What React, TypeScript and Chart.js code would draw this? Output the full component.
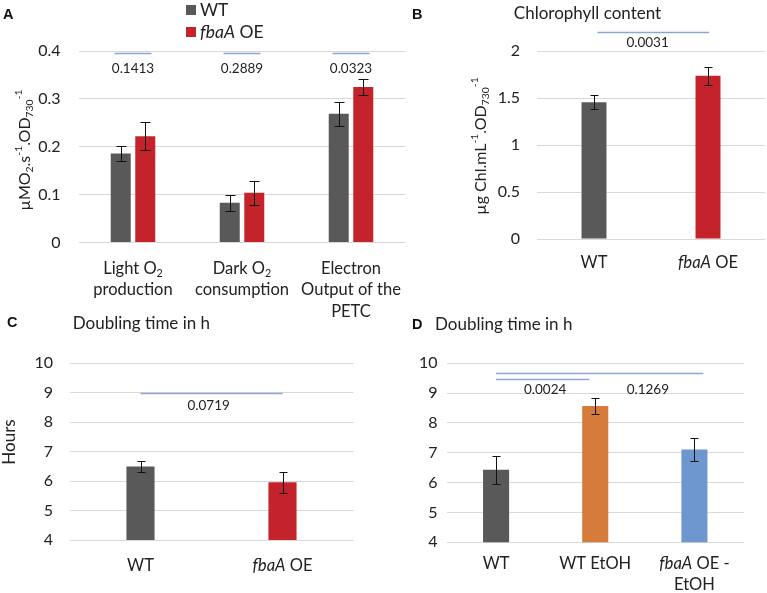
import React, { useEffect, useRef } from "react";
import { Chart, registerables } from "chart.js";
Chart.register(...registerables);

const W = 767;
const H = 593;
const FONT = "Lato, 'Open Sans', sans-serif";
const BOLD_FONT = "'Liberation Sans', Arial, sans-serif";
const TEXT = "#222222";
const GRID = "#d9d9d9";
const PLINE = "#8aa7d6";
const GREY = "#595959";
const RED = "#c4232b";
const ORANGE = "#d57b3b";
const BLUE = "#6f97cf";
const LABEL_SIZE = 16.5;
const TICK_SIZE = 16;
const P_SIZE = 13.5;

// ---------- Panel A ----------
const aCategories = [["Light O_{2}", "production"], ["Dark O_{2}", "consumption"], ["Electron", "Output of the", "PETC"]];
const aSeriesNames = ["WT", "*fbaA* OE"];
const aWT = [0.186, 0.083, 0.269];
const aWTErr = [0.016, 0.017, 0.025];
const aOE = [0.222, 0.104, 0.325];
const aOEErr = [0.029, 0.025, 0.017];
const aPValues = ["0.1413", "0.2889", "0.0323"];
const aYTicks = [0, 0.1, 0.2, 0.3, 0.4];

// ---------- Panel B ----------
const bCategories = [["WT"], ["*fbaA* OE"]];
const bValues = [1.454, 1.737];
const bErr = [0.075, 0.097];
const bPValue = "0.0031";
const bYTicks = [0, 0.5, 1, 1.5, 2];

// ---------- Panel C ----------
const cCategories = [["WT"], ["*fbaA* OE"]];
const cValues = [6.5, 5.96];
const cErr = [0.18, 0.35];
const cPValue = "0.0719";
const cYTicks = [4, 5, 6, 7, 8, 9, 10];

// ---------- Panel D ----------
const dCategories = [["WT"], ["WT EtOH"], ["*fbaA* OE -", "EtOH"]];
const dValues = [6.43, 8.57, 7.11];
const dErr = [0.47, 0.27, 0.4];
const dPValues = ["0.0024", "0.1269"];
const dYTicks = [4, 5, 6, 7, 8, 9, 10];

type Seg = { t: string; kind: "n" | "sub" | "sup"; italic: boolean };
function parseRich(s: string): Seg[] {
  const segs: Seg[] = [];
  let italic = false;
  let i = 0;
  let buf = "";
  const flush = () => {
    if (buf) { segs.push({ t: buf, kind: "n", italic }); buf = ""; }
  };
  while (i < s.length) {
    const c = s[i];
    if (c === "*") { flush(); italic = !italic; i++; continue; }
    if ((c === "_" || c === "^") && s[i + 1] === "{") {
      flush();
      const end = s.indexOf("}", i);
      segs.push({ t: s.slice(i + 2, end), kind: c === "_" ? "sub" : "sup", italic });
      i = end + 1;
      continue;
    }
    buf += c;
    i++;
  }
  flush();
  return segs;
}
function segFont(sg: Seg, size: number, family: string) {
  const sz = sg.kind === "n" ? size : size * 0.65;
  return `${sg.italic ? "italic " : ""}${sz}px ${family}`;
}
function drawRich(ctx: CanvasRenderingContext2D, s: string, x: number, y: number, size: number,
  align: "left" | "center" | "right" = "center", family = FONT, color = TEXT) {
  const segs = parseRich(s);
  ctx.save();
  ctx.textBaseline = "middle";
  ctx.textAlign = "left";
  ctx.fillStyle = color;
  let total = 0;
  const widths = segs.map((sg) => {
    ctx.font = segFont(sg, size, family);
    const w = ctx.measureText(sg.t).width;
    total += w;
    return w;
  });
  let cx = align === "left" ? x : align === "center" ? x - total / 2 : x - total;
  segs.forEach((sg, k) => {
    ctx.font = segFont(sg, size, family);
    const dy = sg.kind === "sub" ? size * 0.3 : sg.kind === "sup" ? -size * 0.38 : 0;
    ctx.fillText(sg.t, cx, y + dy);
    cx += widths[k];
  });
  ctx.restore();
}
function drawRotated(ctx: CanvasRenderingContext2D, s: string, x: number, y: number, size: number) {
  ctx.save();
  ctx.translate(x, y);
  ctx.rotate(-Math.PI / 2);
  drawRich(ctx, s, 0, 0, size, "center");
  ctx.restore();
}
function letter(ctx: CanvasRenderingContext2D, s: string, x: number, y: number) {
  ctx.save();
  ctx.font = `bold 14.5px ${BOLD_FONT}`;
  ctx.fillStyle = "#111";
  ctx.textAlign = "left";
  ctx.textBaseline = "middle";
  ctx.fillText(s, x, y);
  ctx.restore();
}

type Helpers = {
  px: (i: number) => number;
  py: (v: number) => number;
  hline: (i0: number, i1: number, v: number) => void;
};

type Spec = {
  area: { left: number; right: number; top: number; bottom: number };
  tickPad: number;
  yTicks: number[];
  categories: string[][];
  labelY: number[];
  datasets: { values: number[]; errors: number[]; colors: string[] | string; name: string }[];
  categoryPercentage: number;
  barPercentage: number;
  cap: number;
  annotate: (ctx: CanvasRenderingContext2D, h: Helpers) => void;
};

function Panel({ spec }: { spec: Spec }) {
  const ref = useRef<HTMLCanvasElement | null>(null);
  useEffect(() => {
    const canvas = ref.current!;
    const { area } = spec;
    const step = spec.yTicks[1] - spec.yTicks[0];
    const plugin = {
      id: "custom",
      afterDraw(chart: any) {
        const ctx: CanvasRenderingContext2D = chart.ctx;
        const xs = chart.scales.x;
        const ys = chart.scales.y;
        const px = (i: number) => xs.getPixelForValue(i);
        const py = (v: number) => ys.getPixelForValue(v);
        // error bars
        spec.datasets.forEach((ds, di) => {
          const meta = chart.getDatasetMeta(di);
          meta.data.forEach((el: any, i: number) => {
            const x = Math.round(el.x) + 0.5;
            const yt = Math.round(py(ds.values[i] + ds.errors[i])) + 0.5;
            const yb = Math.round(py(ds.values[i] - ds.errors[i])) + 0.5;
            const c = spec.cap;
            ctx.save();
            ctx.strokeStyle = "#111";
            ctx.lineWidth = 1;
            ctx.beginPath();
            ctx.moveTo(x, yt); ctx.lineTo(x, yb);
            ctx.moveTo(x - c, yt); ctx.lineTo(x + c, yt);
            ctx.moveTo(x - c, yb); ctx.lineTo(x + c, yb);
            ctx.stroke();
            ctx.restore();
          });
        });
        // category labels
        spec.categories.forEach((lines, i) => {
          lines.forEach((ln, k) => drawRich(ctx, ln, px(i), spec.labelY[k], LABEL_SIZE, "center"));
        });
        const hline = (i0: number, i1: number, v: number) => {
          ctx.save();
          ctx.strokeStyle = PLINE;
          ctx.lineWidth = 1.3;
          ctx.beginPath();
          ctx.moveTo(px(i0), Math.round(py(v)) + 0.5);
          ctx.lineTo(px(i1), Math.round(py(v)) + 0.5);
          ctx.stroke();
          ctx.restore();
        };
        spec.annotate(ctx, { px, py, hline });
      },
    };
    const chart = new Chart(canvas, {
      type: "bar",
      data: {
        labels: spec.categories.map((l) => l.join(" ").replace(/[*_^{}]/g, "")),
        datasets: spec.datasets.map((ds) => ({
          label: ds.name,
          data: ds.values,
          backgroundColor: ds.colors,
          borderWidth: 0,
          categoryPercentage: spec.categoryPercentage,
          barPercentage: spec.barPercentage,
        })),
      },
      options: {
        responsive: false,
        animation: false,
        devicePixelRatio: 1,
        events: [],
        layout: {
          padding: { left: 0, top: area.top, right: W - area.right, bottom: H - area.bottom },
        },
        plugins: { legend: { display: false }, tooltip: { enabled: false }, title: { display: false } },
        scales: {
          x: { display: false },
          y: {
            min: spec.yTicks[0],
            max: spec.yTicks[spec.yTicks.length - 1],
            afterFit: (s: any) => { s.width = area.left; },
            border: { display: false },
            grid: { color: GRID, lineWidth: 1, drawTicks: false },
            ticks: {
              stepSize: step,
              padding: spec.tickPad,
              color: TEXT,
              font: { family: FONT, size: TICK_SIZE },
              callback: (v: any) => String(Math.round(Number(v) * 100) / 100),
            },
          },
        },
      },
      plugins: [plugin],
    } as any);
    return () => chart.destroy();
  }, [spec]);
  return (
    <canvas ref={ref} width={W} height={H}
      style={{ position: "absolute", left: 0, top: 0, width: W, height: H }} />
  );
}

const specA: Spec = {
  area: { left: 78.5, right: 405.5, top: 51, bottom: 242.5 },
  tickPad: 18,
  yTicks: aYTicks,
  categories: aCategories,
  labelY: [268.5, 290, 311.5],
  datasets: [
    { values: aWT, errors: aWTErr, colors: GREY, name: aSeriesNames[0] },
    { values: aOE, errors: aOEErr, colors: RED, name: aSeriesNames[1] },
  ],
  categoryPercentage: 0.45,
  barPercentage: 0.816,
  cap: 5,
  annotate: (ctx, h) => {
    letter(ctx, "A", 3, 15);
    // legend
    ctx.fillStyle = GREY; ctx.fillRect(186, 5, 10, 10);
    ctx.fillStyle = RED; ctx.fillRect(186, 27, 10, 10);
    drawRich(ctx, aSeriesNames[0], 200, 10.5, 17.5, "left");
    drawRich(ctx, aSeriesNames[1], 200, 32.5, 17.5, "left");
    drawRotated(ctx, "µMO_{2}.s^{-1}.OD_{730}^{-1}", 25, 150, 16);
    aPValues.forEach((p, i) => {
      h.hline(i - 0.17, i + 0.17, 0.396);
      drawRich(ctx, p, h.px(i), h.py(0.363), P_SIZE, "center");
    });
  },
};

const specB: Spec = {
  area: { left: 537, right: 765, top: 51, bottom: 239 },
  tickPad: 17,
  yTicks: bYTicks,
  categories: bCategories,
  labelY: [263],
  datasets: [{ values: bValues, errors: bErr, colors: [GREY, RED], name: "Chlorophyll" }],
  categoryPercentage: 0.219,
  barPercentage: 1,
  cap: 4,
  annotate: (ctx, h) => {
    letter(ctx, "B", 412, 15);
    drawRich(ctx, "Chlorophyll content", 587.5, 13.5, 17, "center");
    drawRotated(ctx, "µg Chl.mL^{-1}.OD_{730}^{-1}", 481, 146, 16);
    h.hline(0.03, 1.01, 2.2);
    drawRich(ctx, bPValue, h.px(0.47), h.py(2.085), P_SIZE, "center");
  },
};

const specC: Spec = {
  area: { left: 69.5, right: 353.5, top: 363.3, bottom: 540 },
  tickPad: 16.5,
  yTicks: cYTicks,
  categories: cCategories,
  labelY: [565.5],
  datasets: [{ values: cValues, errors: cErr, colors: [GREY, RED], name: "Doubling" }],
  categoryPercentage: 0.198,
  barPercentage: 1,
  cap: 4,
  annotate: (ctx, h) => {
    letter(ctx, "C", 7, 323);
    drawRich(ctx, "Doubling time in h", 72.7, 324, 17, "left");
    drawRotated(ctx, "Hours", 10, 442, 17);
    h.hline(0, 1, 9);
    drawRich(ctx, cPValue, h.px(0.48), h.py(8.57), P_SIZE, "center");
  },
};

const specD: Spec = {
  area: { left: 446.5, right: 744, top: 363.3, bottom: 542.3 },
  tickPad: 9,
  yTicks: dYTicks,
  categories: dCategories,
  labelY: [563.3, 585],
  datasets: [{ values: dValues, errors: dErr, colors: [GREY, ORANGE, BLUE], name: "Doubling" }],
  categoryPercentage: 0.263,
  barPercentage: 1,
  cap: 4,
  annotate: (ctx, h) => {
    letter(ctx, "D", 412, 325);
    drawRich(ctx, "Doubling time in h", 435, 325, 17, "left");
    h.hline(0, 2.09, 9.67);
    h.hline(0, 0.94, 9.47);
    drawRich(ctx, dPValues[0], h.px(0.495), h.py(9.13), P_SIZE, "center");
    drawRich(ctx, dPValues[1], h.px(1.53), h.py(9.13), P_SIZE, "center");
  },
};

export default function App() {
  return (
    <div style={{ position: "absolute", left: 0, top: 0, width: W, height: H, background: "#fff", overflow: "hidden" }}>
      <Panel spec={specA} />
      <Panel spec={specB} />
      <Panel spec={specC} />
      <Panel spec={specD} />
    </div>
  );
}
